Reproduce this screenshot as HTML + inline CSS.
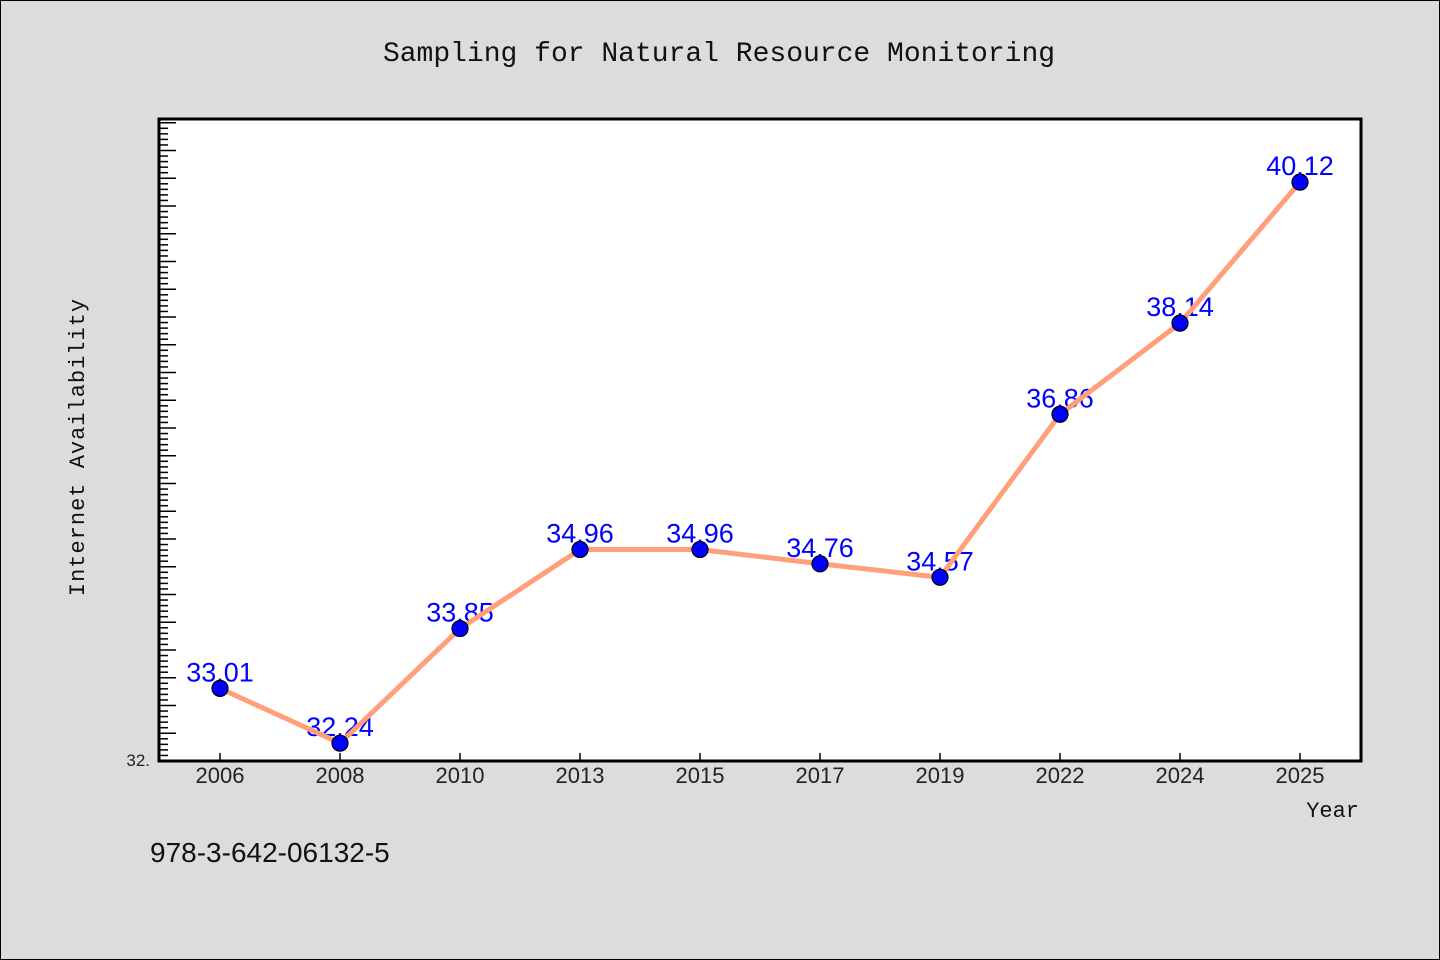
<!DOCTYPE html>
<html><head><meta charset="utf-8"><style>
html,body{margin:0;padding:0;background:#dcdcdc;}
svg{display:block;}
text{font-family:"Liberation Sans","Noto Sans CJK SC",sans-serif;}
</style></head><body>
<svg width="1440" height="960" xmlns="http://www.w3.org/2000/svg">
<rect x="0.5" y="0.5" width="1439" height="959" fill="#dcdcdc" stroke="#000"/>
<text x="719" y="61" text-anchor="middle" font-size="28" style="font-family:'Liberation Mono',monospace" fill="#111">Sampling for Natural Resource Monitoring</text>
<rect x="159" y="119" width="1202" height="642" fill="#fff"/>
<g id="yticks"></g>
<g id="xticks"></g>
<g id="labels"></g>
<g id="series"></g>
<rect x="159" y="119" width="1202" height="642" fill="none" stroke="#000" stroke-width="3"/>
<text x="150" y="766" text-anchor="end" font-size="17" fill="#222">32.</text>
<text x="84" y="447" text-anchor="middle" font-size="22" style="font-family:'Liberation Mono',monospace;letter-spacing:1px" fill="#111" transform="rotate(-90 84 447)">Internet Availability</text>
<text x="1359" y="817" text-anchor="end" font-size="22" style="font-family:'Liberation Mono',monospace" fill="#111">Year</text>
<text x="150" y="862" font-size="28" fill="#111">978-3-642-06132-5</text>
</svg>
<script>
const categories=["2006","2008","2010","2013","2015","2017","2019","2022","2024","2025"];
const values=[33.01,32.24,33.85,34.96,34.96,34.76,34.57,36.86,38.14,40.12];
const NS="http://www.w3.org/2000/svg";
const yMin=31.99, pxPerUnit=71.2, yBase=761;
function y(v){return yBase-(v-yMin)*pxPerUnit;}
function x(i){return 220+i*120;}
function mk(tag,attrs,parent){const e=document.createElementNS(NS,tag);for(const k in attrs)e.setAttribute(k,attrs[k]);parent.appendChild(e);return e;}
const yt=document.getElementById('yticks');
for(let k=0;k<=115;k++){const yy=761-k*5.55;if(yy<121)break;const long=k%5===0;
 const t=mk('line',{x1:159,x2:long?176:168,y1:yy,y2:yy,stroke:'#000','stroke-width':1.5},yt);
 
 }
const xt=document.getElementById('xticks');
categories.forEach((c,i)=>{
 const l=mk('line',{x1:x(i),x2:x(i),y1:761,y2:753,stroke:'#000','stroke-width':1.5},xt);
 
 
 const t=mk('text',{x:x(i),y:783,'text-anchor':'middle','font-size':22,fill:'#222'},xt);
 t.textContent=c;
 
 
});
const lb=document.getElementById('labels');
values.forEach((v,i)=>{
 const t=mk('text',{x:x(i),y:y(v)-7,'text-anchor':'middle','font-size':27,fill:'#0000ff'},lb);
 t.textContent=v.toFixed(2);
 
 
});
const s=document.getElementById('series');
const p=mk('polyline',{points:values.map((v,i)=>x(i)+','+y(v)).join(' '),fill:'none',stroke:'#ffa07a','stroke-width':5,'stroke-linejoin':'round'},s);


values.forEach((v,i)=>{
 const c=mk('circle',{cx:x(i),cy:y(v),r:8,fill:'#0000ff',stroke:'#000','stroke-width':1.2},s);
 
 
});
</script>
</body></html>
